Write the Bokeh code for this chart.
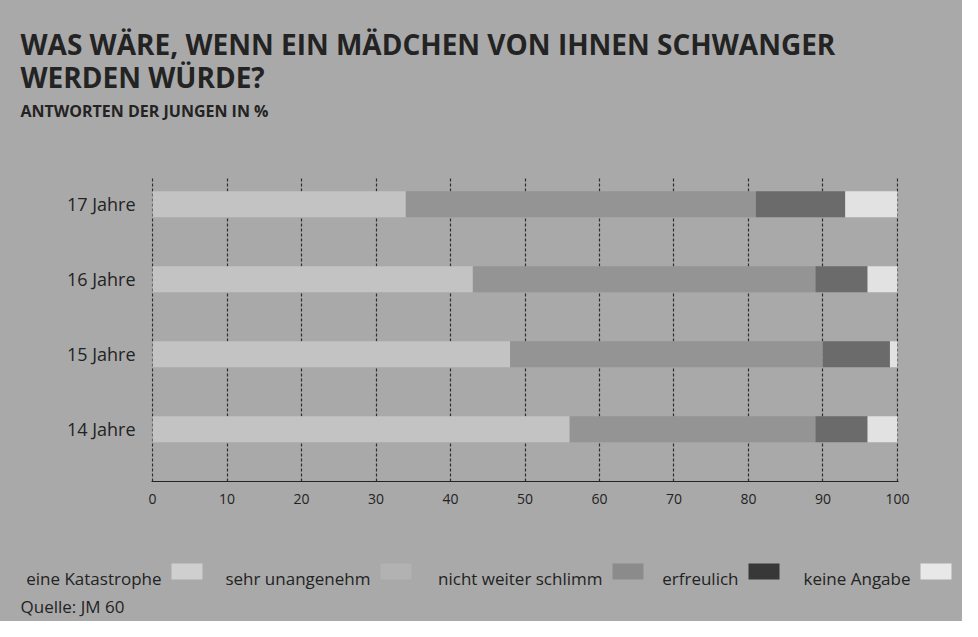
from bokeh.plotting import figure
from bokeh.layouts import column
from bokeh.models import ColumnDataSource, Range1d, FixedTicker
from bokeh.core.properties import value
from bokeh.embed import file_html
from bokeh.resources import INLINE

# ---------------- data ----------------
ages = ["14 Jahre", "15 Jahre", "16 Jahre", "17 Jahre"]
katastrophe = [56, 48, 43, 34]
sehr_unangenehm = [33, 42, 46, 47]
nicht_weiter_schlimm = [7, 9, 7, 12]
erfreulich = [0, 0, 0, 0]
keine_angabe = [4, 1, 4, 7]
series_names = ["eine Katastrophe", "sehr unangenehm", "nicht weiter schlimm",
                "erfreulich", "keine Angabe"]
x_ticks = [0, 10, 20, 30, 40, 50, 60, 70, 80, 90, 100]
title_line1 = "WAS WÄRE, WENN EIN MÄDCHEN VON IHNEN SCHWANGER"
title_line2 = "WERDEN WÜRDE?"
subtitle = "ANTWORTEN DER JUNGEN IN %"
source_text = "Quelle: JM 60"

# ---------------- style ----------------
BG = "#a9a9a9"
INK = "#232323"
bar_colors = ["#c3c3c3", "#949494", "#6b6b6b", "#3a3a3a", "#e2e2e2"]
legend_colors = ["#cfcfcf", "#b2b2b2", "#8b8b8b", "#383838", "#e8e8e8"]
FONT = "Open Sans"

W, H = 962, 621
TOP_H = 166
FRAME_L, FRAME_W = 151, 747
FRAME_TOP_PAD, FRAME_H, FRAME_BOTTOM_PAD = 10, 305, 40
MID_H = FRAME_TOP_PAD + FRAME_H + FRAME_BOTTOM_PAD
BOT_H = H - TOP_H - MID_H
X0, X1 = -0.15, 100.15
Y0, Y1 = -0.697, 3.369


def no_align(f):
    if "frame_align" in f.properties():
        f.frame_align = False
    return f


def blank(height):
    f = figure(width=W, height=height, output_backend="svg", toolbar_location=None,
               x_range=Range1d(0, W), y_range=Range1d(height, 0), title=None,
               x_axis_location=None, y_axis_location=None, min_border=0)
    f.background_fill_color = BG
    f.border_fill_color = BG
    f.outline_line_color = None
    f.xgrid.visible = False
    f.ygrid.visible = False
    return no_align(f)


def put_text(f, txt, x, y, size, bold=False, align="left"):
    f.text(x=[x], y=[y], text=[txt], text_font=value(FONT),
           text_font_size=value(size), text_color=INK,
           text_font_style="bold" if bold else "normal",
           text_align=align, text_baseline="alphabetic")


# ---------------- header ----------------
top = blank(TOP_H)
put_text(top, title_line1, 20, 43, "28px", bold=True)
put_text(top, title_line2, 20, 76, "28px", bold=True)
put_text(top, subtitle, 20, 110, "16px", bold=True)

# ---------------- chart ----------------
y_pos = list(range(len(ages)))
keys = ["k", "s", "n", "e", "a"]
src = ColumnDataSource(dict(y=y_pos, k=katastrophe, s=sehr_unangenehm,
                            n=nicht_weiter_schlimm, e=erfreulich, a=keine_angabe))

p = figure(width=W, height=MID_H, output_backend="svg", toolbar_location=None,
           x_range=Range1d(X0, X1), y_range=Range1d(Y0, Y1), title=None,
           min_border_left=FRAME_L, min_border_right=W - FRAME_L - FRAME_W,
           min_border_top=FRAME_TOP_PAD, min_border_bottom=FRAME_BOTTOM_PAD)
no_align(p)
p.background_fill_color = BG
p.border_fill_color = BG
p.outline_line_color = None

p.hbar_stack(keys, y="y", height=0.347, color=bar_colors, line_color=None,
             source=src)

p.xaxis.ticker = FixedTicker(ticks=x_ticks)
p.xaxis.axis_line_color = INK
p.xaxis.axis_line_width = 1.2
p.xaxis.major_tick_line_color = None
p.xaxis.minor_tick_line_color = None
p.xaxis.major_label_text_font = FONT
p.xaxis.major_label_text_font_size = "14px"
p.xaxis.major_label_text_color = INK
p.xaxis.major_label_standoff = 6
p.xgrid.ticker = FixedTicker(ticks=x_ticks)
p.xgrid.grid_line_color = "#2e2e2e"
p.xgrid.grid_line_width = 1.2
p.xgrid.grid_line_dash = "3 2"
p.ygrid.grid_line_color = None

p.yaxis.ticker = FixedTicker(ticks=y_pos)
p.yaxis.major_label_overrides = {i: a for i, a in zip(y_pos, ages)}
p.yaxis.axis_line_color = None
p.yaxis.major_tick_line_color = None
p.yaxis.minor_tick_line_color = None
p.yaxis.major_label_text_font = FONT
p.yaxis.major_label_text_font_size = "18px"
p.yaxis.major_label_text_color = INK
p.yaxis.major_label_standoff = 10

# ---------------- legend + source ----------------
bot = blank(BOT_H)
legend_swatch_x = [171, 380, 612, 748, 920]
for name, sx in zip(series_names, legend_swatch_x):
    put_text(bot, name, sx - 10, 57, "17px", align="right")
bot.quad(left=legend_swatch_x, right=[sx + 31 for sx in legend_swatch_x],
         top=[42] * len(legend_swatch_x), bottom=[58] * len(legend_swatch_x),
         fill_color=legend_colors, line_color=None)
put_text(bot, source_text, 20, 85, "17px")

layout = column(top, p, bot, spacing=0)
if "styles" in layout.properties():
    layout.styles = {"background-color": BG}
open("out.html", "w").write(file_html(layout, INLINE))
